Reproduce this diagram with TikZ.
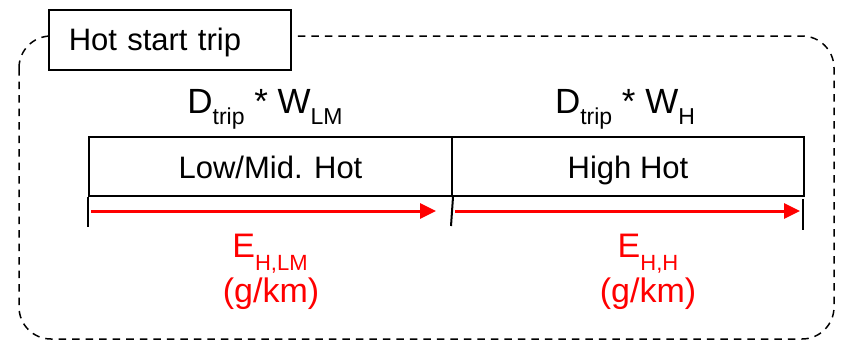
\documentclass[tikz,border=0pt]{standalone}
\usepackage{fontspec}
\setmainfont{Liberation Sans}
\usepackage{graphicx}
\usetikzlibrary{arrows.meta}
\newcommand{\subD}[1]{\raisebox{-11pt}{\fontsize{23}{23}\selectfont #1}}
\newcommand{\subE}[1]{\raisebox{-13pt}{\fontsize{22}{22}\selectfont #1}}
\begin{document}
\begin{tikzpicture}[x=1pt,y=-1pt,
  outerbox/.style={draw, line width=1.5pt, dash pattern=on 7.5pt off 6pt, rounded corners=32pt},
  titlebox/.style={draw, line width=1.5pt, fill=white, anchor=north west, inner xsep=20pt, text width=202pt, align=left, minimum height=60pt, text height=22pt, text depth=0pt, font=\fontsize{31}{36}\selectfont},
  cellbox/.style={draw, line width=2pt, anchor=north west, minimum height=59pt, inner sep=0pt, text height=23pt, text depth=0pt, font=\fontsize{31}{36}\selectfont},
  tick/.style={line width=2pt},
  dlabel/.style={anchor=base, inner sep=0pt, font=\fontsize{35}{40}\selectfont},
  elabel/.style={anchor=base, inner sep=0pt, text=red, font=\fontsize{34}{40}\selectfont},
  redarrow/.style={draw=red, line width=3pt, -{Triangle[length=16pt,width=15pt]}}
]
\useasboundingbox (0,0) rectangle (842,340);
\fill[white] (0,0) rectangle (842,340);
% outer dashed frame
\draw[outerbox] (19,36) rectangle (834,339);
% title
\node[titlebox] (title) at (48,9) {Hot start trip};
% cells
\node[cellbox, minimum width=363pt] (cellA) at (88,136) {Low/Mid. Hot};
\node[cellbox, minimum width=352pt] (cellB) at (451,136) {High Hot};
% ticks
\coordinate (tA) at (88,227);
\coordinate (tM) at (451,226);
\coordinate (tBs) at (803,199);
\coordinate (tBe) at (803,230);
\draw[tick] (cellA.south west) -- (tA);
\draw[tick] (cellA.south east) -- (tM);
\draw[tick] (tBs) -- (tBe);
% D labels
\node[dlabel] (dA) at (265,113) {D\subD{trip} * W\subD{LM}};
\node[dlabel] (dB) at (625,113) {D\subD{trip} * W\subD{H}};
% arrows
\coordinate (aAs) at (91,211);
\coordinate (aAe) at (436,211);
\coordinate (aBs) at (455,211);
\coordinate (aBe) at (800,211);
\draw[redarrow] (aAs) -- (aAe);
\draw[redarrow] (aBs) -- (aBe);
% E labels
\node[elabel] (eA) at (270,257) {E\subE{H,LM}};
\node[elabel] (uA) at (271,302) {(g/km)};
\node[elabel] (eB) at (648,257) {E\subE{H,H}};
\node[elabel] (uB) at (648,302) {(g/km)};
\end{tikzpicture}
\end{document}
